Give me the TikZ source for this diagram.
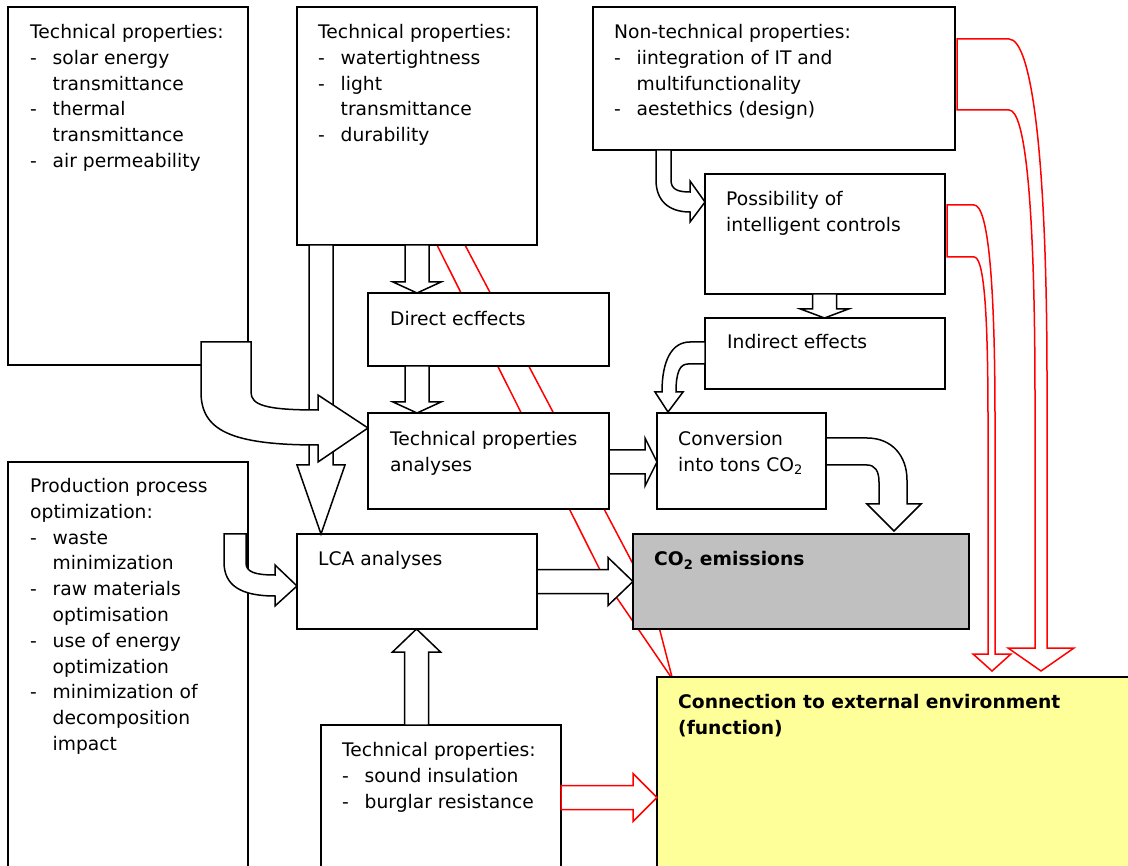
\documentclass[tikz,border=0pt]{standalone}
\usepackage{fontspec}
\setmainfont{DejaVu Sans}
\usetikzlibrary{calc,backgrounds}

\definecolor{co2grey}{RGB}{192,192,192}
\definecolor{envyellow}{RGB}{255,255,153}

\tikzset{
  box/.style={draw, line width=2pt, fill=white, anchor=north west, inner sep=0pt, outer sep=0pt},
  txt/.style={anchor=north west, inner sep=0pt, align=left, font=\fontsize{18.7}{25.8}\selectfont},
  blk/.style={draw, line width=1.5pt, fill=white, line join=miter},
  redblk/.style={blk, draw=red},
  redline/.style={draw=red, line width=1.5pt},
}

\newcommand\itemdash{\makebox[22.5pt][l]{-}}
\newcommand\itemcont{\hspace*{22.5pt}}

% block arrows: source, target, axis, head length
\newcommand\blkdown[5][blk]{%
  \draw[#1] ($(#4,0 |- #2.south)+(-12,0)$) -- ($(#4,0 |- #3.north)+(-12,-#5)$) -- ++(-12,0)
    -- (#4,0 |- #3.north) -- ++(24,-#5) -- ++(-12,0) -- ($(#4,0 |- #2.south)+(12,0)$) -- cycle;}
\newcommand\blkup[5][blk]{%
  \draw[#1] ($(#4,0 |- #2.north)+(-12,0)$) -- ($(#4,0 |- #3.south)+(-12,#5)$) -- ++(-12,0)
    -- (#4,0 |- #3.south) -- ++(24,#5) -- ++(-12,0) -- ($(#4,0 |- #2.north)+(12,0)$) -- cycle;}
\newcommand\blkright[5][blk]{%
  \draw[#1] ($(#2.east |- 0,#4)+(0,-12)$) -- ($(#3.west |- 0,#4)+(-#5,-12)$) -- ++(0,-12)
    -- (#3.west |- 0,#4) -- ++(-#5,24) -- ++(0,-12) -- ($(#2.east |- 0,#4)+(0,12)$) -- cycle;}

\begin{document}
\begin{tikzpicture}[x=1pt, y=-1pt]
  \useasboundingbox (0,0) rectangle (1128,866);
  \clip (0,0) rectangle (1128,866);

  % boxes
  \node[box, minimum width=240pt, minimum height=358pt] (tl) at (8,7) {};
  \node[box, minimum width=240pt, minimum height=238pt] (tm) at (297,7) {};
  \node[box, minimum width=362pt, minimum height=143pt] (nt) at (593,7) {};
  \node[box, minimum width=240pt, minimum height=120pt] (pos) at (705,174) {};
  \node[box, minimum width=240pt, minimum height=71pt] (ind) at (705,318) {};
  \node[box, minimum width=241pt, minimum height=73pt] (de) at (368,293) {};
  \node[box, minimum width=241pt, minimum height=96pt] (tpa) at (368,413) {};
  \node[box, minimum width=169pt, minimum height=96pt] (conv) at (657,413) {};
  \node[box, minimum width=240pt, minimum height=420pt] (prod) at (8,462) {};
  \node[box, minimum width=240pt, minimum height=95pt] (lca) at (297,534) {};
  \node[box, minimum width=336pt, minimum height=95pt, fill=co2grey] (co2) at (633,534) {};
  \node[box, minimum width=240pt, minimum height=160pt] (tpb) at (321,725) {};
  \node[box, minimum width=480pt, minimum height=200pt, fill=envyellow] (env) at (657,677) {};

  % red connection behind the boxes
  \begin{pgfonlayer}{background}
    \draw[redline] (437,0 |- tm.south) -- (606,582) -- (671,0 |- env.north);
    \draw[redline] (465,0 |- tm.south) -- (652,600) -- (672,0 |- env.north);
  \end{pgfonlayer}

  % texts
  \node[txt] (tl-t) at ([shift={(22,17)}]tl.north west) {Technical properties:\\
    \itemdash solar energy\\ \itemcont transmittance\\
    \itemdash thermal\\ \itemcont transmittance\\
    \itemdash air permeability};
  \node[txt] (tm-t) at ([shift={(21,17)}]tm.north west) {Technical properties:\\
    \itemdash watertightness\\
    \itemdash light\\ \itemcont transmittance\\
    \itemdash durability};
  \node[txt] (nt-t) at ([shift={(21,17)}]nt.north west) {Non-technical properties:\\
    \itemdash iintegration of IT and\\ \itemcont multifunctionality\\
    \itemdash aestethics (design)};
  \node[txt] (pos-t) at ([shift={(21,17)}]pos.north west) {Possibility of\\intelligent controls};
  \node[txt] (ind-t) at ([shift={(22,16)}]ind.north west) {Indirect effects};
  \node[txt] (de-t) at ([shift={(22,18)}]de.north west) {Direct ecffects};
  \node[txt] (tpa-t) at ([shift={(22,18)}]tpa.north west) {Technical properties\\analyses};
  \node[txt] (conv-t) at ([shift={(21,18)}]conv.north west) {Conversion\\into tons CO\textsubscript{2}};
  \node[txt] (prod-t) at ([shift={(22,16)}]prod.north west) {Production process\\optimization:\\
    \itemdash waste\\ \itemcont minimization\\
    \itemdash raw materials\\ \itemcont optimisation\\
    \itemdash use of energy\\ \itemcont optimization\\
    \itemdash minimization of\\ \itemcont decomposition\\ \itemcont impact};
  \node[txt] (lca-t) at ([shift={(21,17)}]lca.north west) {LCA analyses};
  \node[txt, font=\fontsize{18.7}{25.8}\selectfont\bfseries] (co2-t) at ([shift={(21,17)}]co2.north west) {CO\textsubscript{2} emissions};
  \node[txt] (tpb-t) at ([shift={(21,17)}]tpb.north west) {Technical properties:\\
    \itemdash sound insulation\\
    \itemdash burglar resistance};
  \node[txt, font=\fontsize{18.7}{25.8}\selectfont\bfseries] (env-t) at ([shift={(21,17)}]env.north west) {Connection to external environment\\(function)};

  % straight block arrows
  \blkdown{tm}{de}{417}{11}
  \blkdown{de}{tpa}{417}{11}
  \blkdown{tm}{lca}{321}{69}
  \blkdown{pos}{ind}{824.5}{9}
  \blkright{tpa}{conv}{462}{12}
  \blkright{lca}{co2}{581.5}{25}
  \blkup{tpb}{lca}{416.5}{23}
  \blkright[redblk]{tpb}{env}{797.5}{24}

  % curved block arrows
  \draw[blk] (201,342) -- (251,342) -- (251,392) .. controls (251,405) and (265,410) .. (318,410)
    -- (318,395) -- (368,428) -- (318,462) -- (318,445) .. controls (230,445) and (201,430) .. (201,392) -- cycle;
  \draw[blk] (224,534) -- (246,534) -- (246,563) .. controls (246,572) and (255,575) .. (275,575)
    -- (275,565) -- (297,586) -- (275,606) -- (275,596) .. controls (240,596) and (224,585) .. (224,562) -- cycle;
  \draw[blk] (656,150) -- (671,150) -- (671,180) .. controls (671,189) and (677,192) .. (690,192)
    -- (690,181) -- (705,202) -- (690,222) -- (690,212) .. controls (668,212) and (656,200) .. (656,180) -- cycle;
  \draw[blk] (705,342) -- (705,364) -- (688,364) .. controls (680,364) and (676,372) .. (676,392)
    -- (683,392) -- (668,412) -- (655,392) -- (662,392) .. controls (662,360) and (672,342) .. (690,342) -- cycle;
  \draw[blk] (826,438) -- (867,438) .. controls (892,438) and (907,456) .. (907,480) -- (907,504)
    -- (921,504) -- (894,531) -- (867,504) -- (879,504) -- (879,482) .. controls (879,471) and (875,465) .. (867,465)
    -- (826,465) -- cycle;
  \draw[redblk] (957,39) -- (1009,39) .. controls (1032,39) and (1047,160) .. (1047,380) -- (1047,648)
    -- (1074,648) -- (1041,671) -- (1008,648) -- (1035,648) -- (1035,400) .. controls (1035,200) and (1025,110) .. (1009,110)
    -- (957,110) -- cycle;
  \draw[redblk] (947,205) -- (974,205) .. controls (988,205) and (995,280) .. (995,420) -- (995,654)
    -- (1011,654) -- (992,671) -- (973,654) -- (988,654) -- (988,420) .. controls (988,300) and (983,257) .. (974,257)
    -- (947,257) -- cycle;
\end{tikzpicture}
\end{document}
